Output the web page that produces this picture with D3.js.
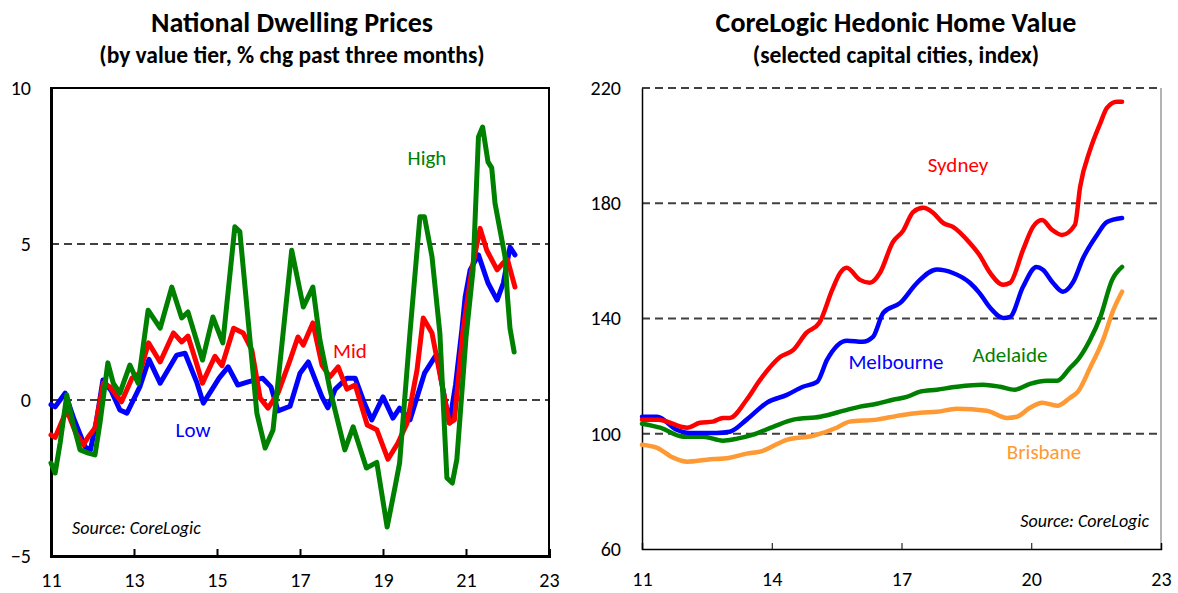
<!DOCTYPE html>
<html>
<head>
<meta charset="utf-8">
<script src="https://cdn.jsdelivr.net/npm/d3@7"></script>
<style>
  body { margin: 0; background: #fff; }
  text { font-family: Carlito, Lato, sans-serif; }
</style>
</head>
<body>
<div id="datavis"></div>
<script>

// ---- left panel: % chg past three months, by value tier ----
const tierLow = [[11.0,-0.15],[11.1,-0.22],[11.34,0.22],[11.55,-0.6],[11.82,-1.5],[11.95,-1.6],[12.1,-0.64],[12.25,0.64],[12.45,0.3],[12.66,-0.32],[12.83,-0.42],[13.14,0.42],[13.36,1.3],[13.63,0.54],[14.03,1.44],[14.23,1.5],[14.52,0.54],[14.67,-0.1],[14.9,0.38],[15.05,0.7],[15.27,1.06],[15.5,0.48],[15.75,0.58],[16.1,0.7],[16.3,0.42],[16.47,-0.35],[16.76,-0.2],[17.0,0.86],[17.2,1.22],[17.53,0.1],[17.67,-0.25],[17.85,0.35],[18.13,0.7],[18.33,0.7],[18.55,-0.1],[18.73,-0.64],[19.0,0.1],[19.24,-0.58],[19.4,-0.26],[19.65,-0.64],[20.0,0.86],[20.25,1.38],[20.3,1.44],[20.45,0.3],[20.6,-0.74],[20.75,0.5],[20.9,2.24],[20.98,3.3],[21.1,4.17],[21.3,4.65],[21.53,3.75],[21.75,3.2],[21.9,3.75],[22.06,4.9],[22.18,4.65]];

const tierMid = [[11.0,-1.12],[11.1,-1.2],[11.38,-0.32],[11.6,-1.06],[11.78,-1.44],[11.9,-1.18],[12.06,-0.9],[12.26,0.54],[12.42,0.42],[12.7,-0.06],[12.95,0.7],[13.14,0.86],[13.35,1.83],[13.63,1.22],[13.95,2.15],[14.15,1.86],[14.3,2.05],[14.5,1.2],[14.65,0.54],[14.95,1.4],[15.12,1.1],[15.4,2.3],[15.63,2.15],[15.84,1.6],[16.04,0.06],[16.23,-0.26],[16.47,0.22],[16.76,1.28],[16.95,2.02],[17.08,1.76],[17.31,2.47],[17.53,1.12],[17.72,0.74],[17.92,1.06],[18.13,0.35],[18.33,0.48],[18.62,-0.8],[18.85,-0.95],[19.12,-1.9],[19.36,-1.38],[19.58,-0.74],[19.82,0.96],[19.97,2.63],[20.18,2.15],[20.6,-0.74],[20.72,-0.64],[20.93,2.24],[21.14,4.17],[21.34,5.5],[21.5,4.8],[21.75,4.17],[21.9,4.4],[22.0,4.5],[22.18,3.62]];

const tierHigh = [[11.0,-2.02],[11.1,-2.34],[11.22,-1.38],[11.38,0.16],[11.53,-0.74],[11.7,-1.6],[11.9,-1.7],[12.06,-1.76],[12.18,-0.74],[12.37,1.19],[12.5,0.54],[12.66,0.22],[12.9,1.12],[13.1,0.54],[13.34,2.88],[13.63,2.3],[13.91,3.62],[14.15,2.63],[14.3,2.82],[14.65,1.28],[14.9,2.66],[15.14,1.83],[15.43,5.55],[15.55,5.4],[15.96,-0.42],[16.16,-1.54],[16.35,-0.96],[16.8,4.8],[17.08,2.98],[17.31,3.62],[17.48,1.92],[17.72,0.35],[18.08,-1.6],[18.28,-0.86],[18.6,-2.18],[18.85,-2.0],[19.1,-4.07],[19.29,-2.79],[19.4,-2.02],[19.65,2.15],[19.89,5.87],[20.0,5.87],[20.18,4.6],[20.37,2.15],[20.54,-2.5],[20.67,-2.66],[20.78,-1.9],[21.0,2.0],[21.17,4.17],[21.3,8.43],[21.4,8.75],[21.53,7.63],[21.62,7.44],[21.7,6.3],[21.82,5.45],[21.94,4.6],[22.0,3.3],[22.06,2.3],[22.16,1.54]];

const leftXTicks = [11, 13, 15, 17, 19, 21, 23];
const leftYTicks = [-5, 0, 5, 10];
const leftGrid = [0, 5];

// ---- right panel: hedonic home value index ----
const sydney = [[11.0,104.9],[11.37,104.9],[12.04,102.1],[12.34,103.8],[12.64,104.2],[12.87,105.5],[13.03,105.5],[13.42,111.8],[13.73,118.7],[14.2,126.7],[14.5,129.1],[14.8,135],[15.1,138.5],[15.4,150],[15.58,155.8],[15.73,157.6],[16.04,153.4],[16.27,152.4],[16.5,155.8],[16.8,166.5],[17.04,170.5],[17.27,177],[17.5,178.4],[17.73,176.7],[17.96,173.2],[18.19,171.8],[18.58,166.2],[18.8,162.1],[19.05,155.8],[19.35,151.7],[19.51,152.4],[19.81,163.8],[20.04,171.8],[20.25,174.2],[20.48,170.8],[20.71,169],[21.01,172.5],[21.13,185.7],[21.36,198.5],[21.6,207.9],[21.75,213.1],[21.98,215.2],[22.1,215.2]];

const melbourne = [[11.0,105.9],[11.35,105.9],[11.8,101.4],[12.1,100.3],[12.41,100.3],[12.73,100.3],[13.03,100.7],[13.42,104.9],[13.89,110.8],[14.35,113.5],[14.72,116.3],[15.05,118],[15.28,125.7],[15.74,132.3],[16.1,131.9],[16.34,133.6],[16.58,142],[16.97,145.4],[17.36,152.4],[17.82,157],[18.19,155.8],[18.58,152.4],[18.8,148.9],[19.05,143.7],[19.35,140.2],[19.51,140.6],[19.81,151],[20.12,157.9],[20.27,156.9],[20.5,152.4],[20.73,149.3],[20.97,152.7],[21.2,161],[21.52,169],[21.75,173.5],[22.1,174.9]];

const adelaide = [[11.0,103.5],[11.42,102.1],[11.95,99],[12.41,99],[12.87,97.6],[13.2,98.3],[13.57,99.7],[14.03,102.4],[14.5,104.9],[15.12,105.9],[15.74,108.3],[16.04,109.4],[16.43,110.4],[16.8,111.8],[17.12,112.8],[17.43,114.6],[17.82,115.3],[18.28,116.3],[18.88,117],[19.28,116.3],[19.62,115.3],[19.97,117.3],[20.36,118.4],[20.6,118.4],[20.9,122.9],[21.08,125.7],[21.36,132.6],[21.6,140.6],[21.87,153.4],[22.1,157.9]];

const brisbane = [[11.0,96.2],[11.35,95.1],[11.72,91.7],[12.04,90.3],[12.5,91],[13.03,91.7],[13.42,93.1],[13.73,93.8],[14.35,97.9],[14.96,99.3],[15.5,102.1],[15.8,104.2],[16.43,104.9],[16.9,106.2],[17.43,107.3],[17.82,107.6],[18.28,108.7],[18.97,108],[19.44,105.5],[19.67,105.9],[19.97,109],[20.25,110.8],[20.6,109.7],[20.9,112.5],[21.08,114.6],[21.36,122.9],[21.66,132.6],[21.9,143],[22.1,149.3]];

const rightXTicks = [11, 14, 17, 20, 23];
const rightYTicks = [60, 100, 140, 180, 220];
const rightGrid = [100, 140, 180, 220];


const svg = d3.select("#datavis")
  .append("svg")
    .attr("width", 1178)
    .attr("height", 593);

const GRID = "#404040";
const TITLE_SIZE = 28, SUB_SIZE = 23.5, TICK_SIZE = 20, LABEL_SIZE = 21, SOURCE_SIZE = 18;


/*********** left panel ***********/

const x1 = d3.scaleLinear().domain([11, 23]).range([51, 549]);
const y1 = d3.scaleLinear().domain([-5, 10]).range([556, 88]);

svg.append("text").attr("x", 292).attr("y", 32)
  .attr("text-anchor", "middle").attr("font-weight", "bold").attr("font-size", TITLE_SIZE)
  .text("National Dwelling Prices");
svg.append("text").attr("x", 292).attr("y", 63)
  .attr("text-anchor", "middle").attr("font-weight", "bold").attr("font-size", SUB_SIZE)
  .text("(by value tier, % chg past three months)");

svg.append("g").selectAll("line")
  .data(leftGrid)
  .join("line")
    .attr("x1", x1(11)).attr("x2", x1(23))
    .attr("y1", d => y1(d)).attr("y2", d => y1(d))
    .attr("stroke", GRID).attr("stroke-width", 2)
    .attr("stroke-dasharray", "8,5");

// frame: thin top/right, thick left/bottom
svg.append("rect")
  .attr("x", x1(11)).attr("y", y1(10))
  .attr("width", x1(23) - x1(11)).attr("height", y1(-5) - y1(10))
  .attr("fill", "none").attr("stroke", "#000").attr("stroke-width", 2);

const xAxis1 = svg.append("g")
  .attr("transform", `translate(0,${y1(-5)})`)
  .call(d3.axisBottom(x1).tickValues(leftXTicks).tickSize(-7).tickPadding(17).tickFormat(d3.format("d")));
xAxis1.select(".domain").attr("stroke-width", 3);
xAxis1.selectAll(".tick line").attr("stroke-width", 2);
xAxis1.selectAll("text").attr("font-size", TICK_SIZE).attr("fill", "#000");

const yAxis1 = svg.append("g")
  .attr("transform", `translate(${x1(11)},0)`)
  .call(d3.axisLeft(y1).tickValues(leftYTicks).tickSize(0).tickPadding(20));
yAxis1.select(".domain").attr("stroke-width", 3);
yAxis1.selectAll("text").attr("font-size", TICK_SIZE).attr("fill", "#000");

const line1 = d3.line().x(d => x1(d[0])).y(d => y1(d[1]));

const tiers = [
  {name: "Low", data: tierLow, color: "#0000ff"},
  {name: "Mid", data: tierMid, color: "#ff0000"},
  {name: "High", data: tierHigh, color: "#008000"}
];

svg.append("g").selectAll("path")
  .data(tiers)
  .join("path")
    .attr("d", d => line1(d.data))
    .attr("fill", "none")
    .attr("stroke", d => d.color)
    .attr("stroke-width", 5)
    .attr("stroke-linejoin", "round")
    .attr("stroke-linecap", "round");

// series labels
svg.append("text").attr("x", 193).attr("y", 437).attr("text-anchor", "middle")
  .attr("font-size", LABEL_SIZE).attr("fill", "#0000ff").text("Low");
svg.append("text").attr("x", 350).attr("y", 358).attr("text-anchor", "middle")
  .attr("font-size", LABEL_SIZE).attr("fill", "#ff0000").text("Mid");
svg.append("text").attr("x", 427).attr("y", 165).attr("text-anchor", "middle")
  .attr("font-size", LABEL_SIZE).attr("fill", "#008000").text("High");

svg.append("text").attr("x", 72).attr("y", 534)
  .attr("font-size", SOURCE_SIZE).attr("font-style", "italic").text("Source: CoreLogic");


/*********** right panel ***********/

const x2 = d3.scaleLinear().domain([11, 23]).range([642, 1161]);
const y2 = d3.scaleLinear().domain([60, 220]).range([549, 88]);

svg.append("text").attr("x", 896).attr("y", 32)
  .attr("text-anchor", "middle").attr("font-weight", "bold").attr("font-size", TITLE_SIZE)
  .text("CoreLogic Hedonic Home Value");
svg.append("text").attr("x", 896).attr("y", 63)
  .attr("text-anchor", "middle").attr("font-weight", "bold").attr("font-size", SUB_SIZE)
  .text("(selected capital cities, index)");

// right border
svg.append("line")
  .attr("x1", x2(23)).attr("x2", x2(23))
  .attr("y1", y2(220)).attr("y2", y2(60))
  .attr("stroke", "#808080").attr("stroke-width", 1.2);

svg.append("g").selectAll("line")
  .data(rightGrid)
  .join("line")
    .attr("x1", x2(11)).attr("x2", x2(23))
    .attr("y1", d => y2(d)).attr("y2", d => y2(d))
    .attr("stroke", GRID).attr("stroke-width", 2)
    .attr("stroke-dasharray", "8,5");

const xAxis2 = svg.append("g")
  .attr("transform", `translate(0,${y2(60)})`)
  .call(d3.axisBottom(x2).tickValues(rightXTicks).tickSize(-6).tickPadding(23).tickFormat(d3.format("d")));
xAxis2.select(".domain").attr("stroke-width", 1.5);
xAxis2.selectAll("text").attr("font-size", TICK_SIZE).attr("fill", "#000");

const yAxis2 = svg.append("g")
  .attr("transform", `translate(${x2(11)},0)`)
  .call(d3.axisLeft(y2).tickValues(rightYTicks).tickSize(0).tickPadding(21));
yAxis2.select(".domain").attr("stroke-width", 1.5);
yAxis2.selectAll("text").attr("font-size", TICK_SIZE).attr("fill", "#000");

const line2 = d3.line().x(d => x2(d[0])).y(d => y2(d[1])).curve(d3.curveMonotoneX);

const cities = [
  {name: "Brisbane", data: brisbane, color: "#ff9933"},
  {name: "Adelaide", data: adelaide, color: "#008000"},
  {name: "Melbourne", data: melbourne, color: "#0000ff"},
  {name: "Sydney", data: sydney, color: "#ff0000"}
];

svg.append("g").selectAll("path")
  .data(cities)
  .join("path")
    .attr("d", d => line2(d.data))
    .attr("fill", "none")
    .attr("stroke", d => d.color)
    .attr("stroke-width", 4.5)
    .attr("stroke-linejoin", "round")
    .attr("stroke-linecap", "round");

svg.append("text").attr("x", 958).attr("y", 172).attr("text-anchor", "middle")
  .attr("font-size", LABEL_SIZE).attr("fill", "#ff0000").text("Sydney");
svg.append("text").attr("x", 896).attr("y", 369).attr("text-anchor", "middle")
  .attr("font-size", LABEL_SIZE).attr("fill", "#0000ff").text("Melbourne");
svg.append("text").attr("x", 1010).attr("y", 362).attr("text-anchor", "middle")
  .attr("font-size", LABEL_SIZE).attr("fill", "#008000").text("Adelaide");
svg.append("text").attr("x", 1044).attr("y", 459).attr("text-anchor", "middle")
  .attr("font-size", LABEL_SIZE).attr("fill", "#ff9933").text("Brisbane");

svg.append("text").attr("x", 1149).attr("y", 527).attr("text-anchor", "end")
  .attr("font-size", SOURCE_SIZE).attr("font-style", "italic").text("Source: CoreLogic");

</script>
</body>
</html>
